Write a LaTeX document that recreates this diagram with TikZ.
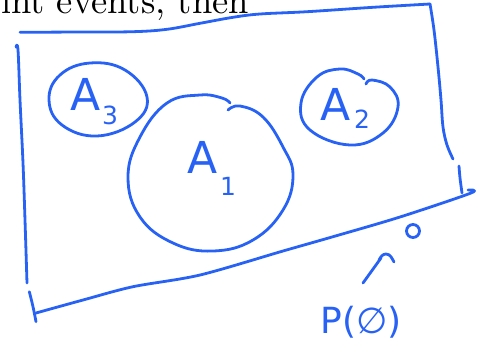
\documentclass[tikz,border=0pt]{standalone}
\usepackage{fontspec}
\newfontfamily\hand{DejaVu Sans}
\newfontfamily\lmten{lmroman10-regular.otf}
\definecolor{pen}{RGB}{40,98,245}
\begin{document}
\begin{tikzpicture}[x=1pt,y=-1pt,
  ink/.style={draw=pen,line width=2.8pt,line cap=round,line join=round},
  bigA/.style={text=pen,font=\hand\fontsize{44}{48}\selectfont,inner sep=0pt},
  subn/.style={text=pen,font=\hand\fontsize{25}{28}\selectfont,inner sep=0pt}]
\useasboundingbox (0,0) rectangle (482,341);
\clip (0,0) rectangle (482,341);
% cropped text at the top
\node[anchor=base east,inner sep=0pt,font=\lmten\fontsize{36.5}{40}\selectfont] (txt) at (249,13) {disjoint events, then};
% sample space (hand-drawn quadrilateral)
\draw[ink] plot[smooth,tension=0.6] coordinates {(20,32.3) (80,32) (133,31.7) (167,29.3) (200,23.3) (233,17.3) (260,14) (307,11.7) (373,7.3) (430,4)};
\draw[ink] plot[smooth,tension=0.6] coordinates {(430,4) (434,30) (438,67) (441,100) (443,127) (447,145) (453,159)};
\draw[ink] plot[smooth,tension=0.6] coordinates {(459,166) (460,178) (462,193)};
\draw[ink] plot[smooth,tension=0.5] coordinates {(468,190) (471,193) (400,217) (333,236.7) (283,251) (200,275) (133,286.7) (83,300) (36,313)};
\draw[ink] plot[smooth,tension=0.6] coordinates {(16,47) (18,50) (20,100) (23,163) (25,220) (27,283)};
\draw[ink] plot[smooth,tension=0.6] coordinates {(29.3,291.7) (33,306.7) (36,321.7)};
% A3
\draw[ink] plot[smooth cycle,tension=0.7] coordinates {(49,100) (60,75) (90,63) (125,70) (147,97) (135,122) (97,136) (62,125)};
\node[bigA,anchor=south west] (a3) at (70,111) {A};
\node[subn,anchor=south west] (s3) at (102,125) {3};
% A1
\draw[ink] plot[smooth,tension=0.7] coordinates {(228,110) (240,106) (263,117) (283,147) (293,175) (283,210) (253,240) (213,251) (173,243) (140,217) (128,177) (140,137) (167,103) (200,95) (222,98) (230,103)};
\node[bigA,anchor=south west] (a1) at (187,174) {A};
\node[subn,anchor=south west] (s1) at (220,196) {1};
% A2
\draw[ink] plot[smooth,tension=0.7] coordinates {(366,84) (372,80) (390,87) (398,107) (383,133) (350,145) (310,130) (301,103) (317,77) (340,69) (358,74) (364,79)};
\node[bigA,anchor=south west] (a2) at (320,121) {A};
\node[subn,anchor=south west] (s2) at (354,129) {2};
% the small zero and arrow
\draw[ink] (413,231) circle (6.5);
\coordinate (ar0) at (363,283);
\coordinate (ar1) at (381,258);
\draw[ink] (ar0) -- (ar1);
\draw[ink] (379,260) to[out=60,in=180] (386,254) to[out=0,in=120] (394,262);
\node[text=pen,font=\hand\fontsize{36}{40}\selectfont,inner sep=0pt] (pe) at (361,322) {P(∅)};
\end{tikzpicture}
\end{document}
